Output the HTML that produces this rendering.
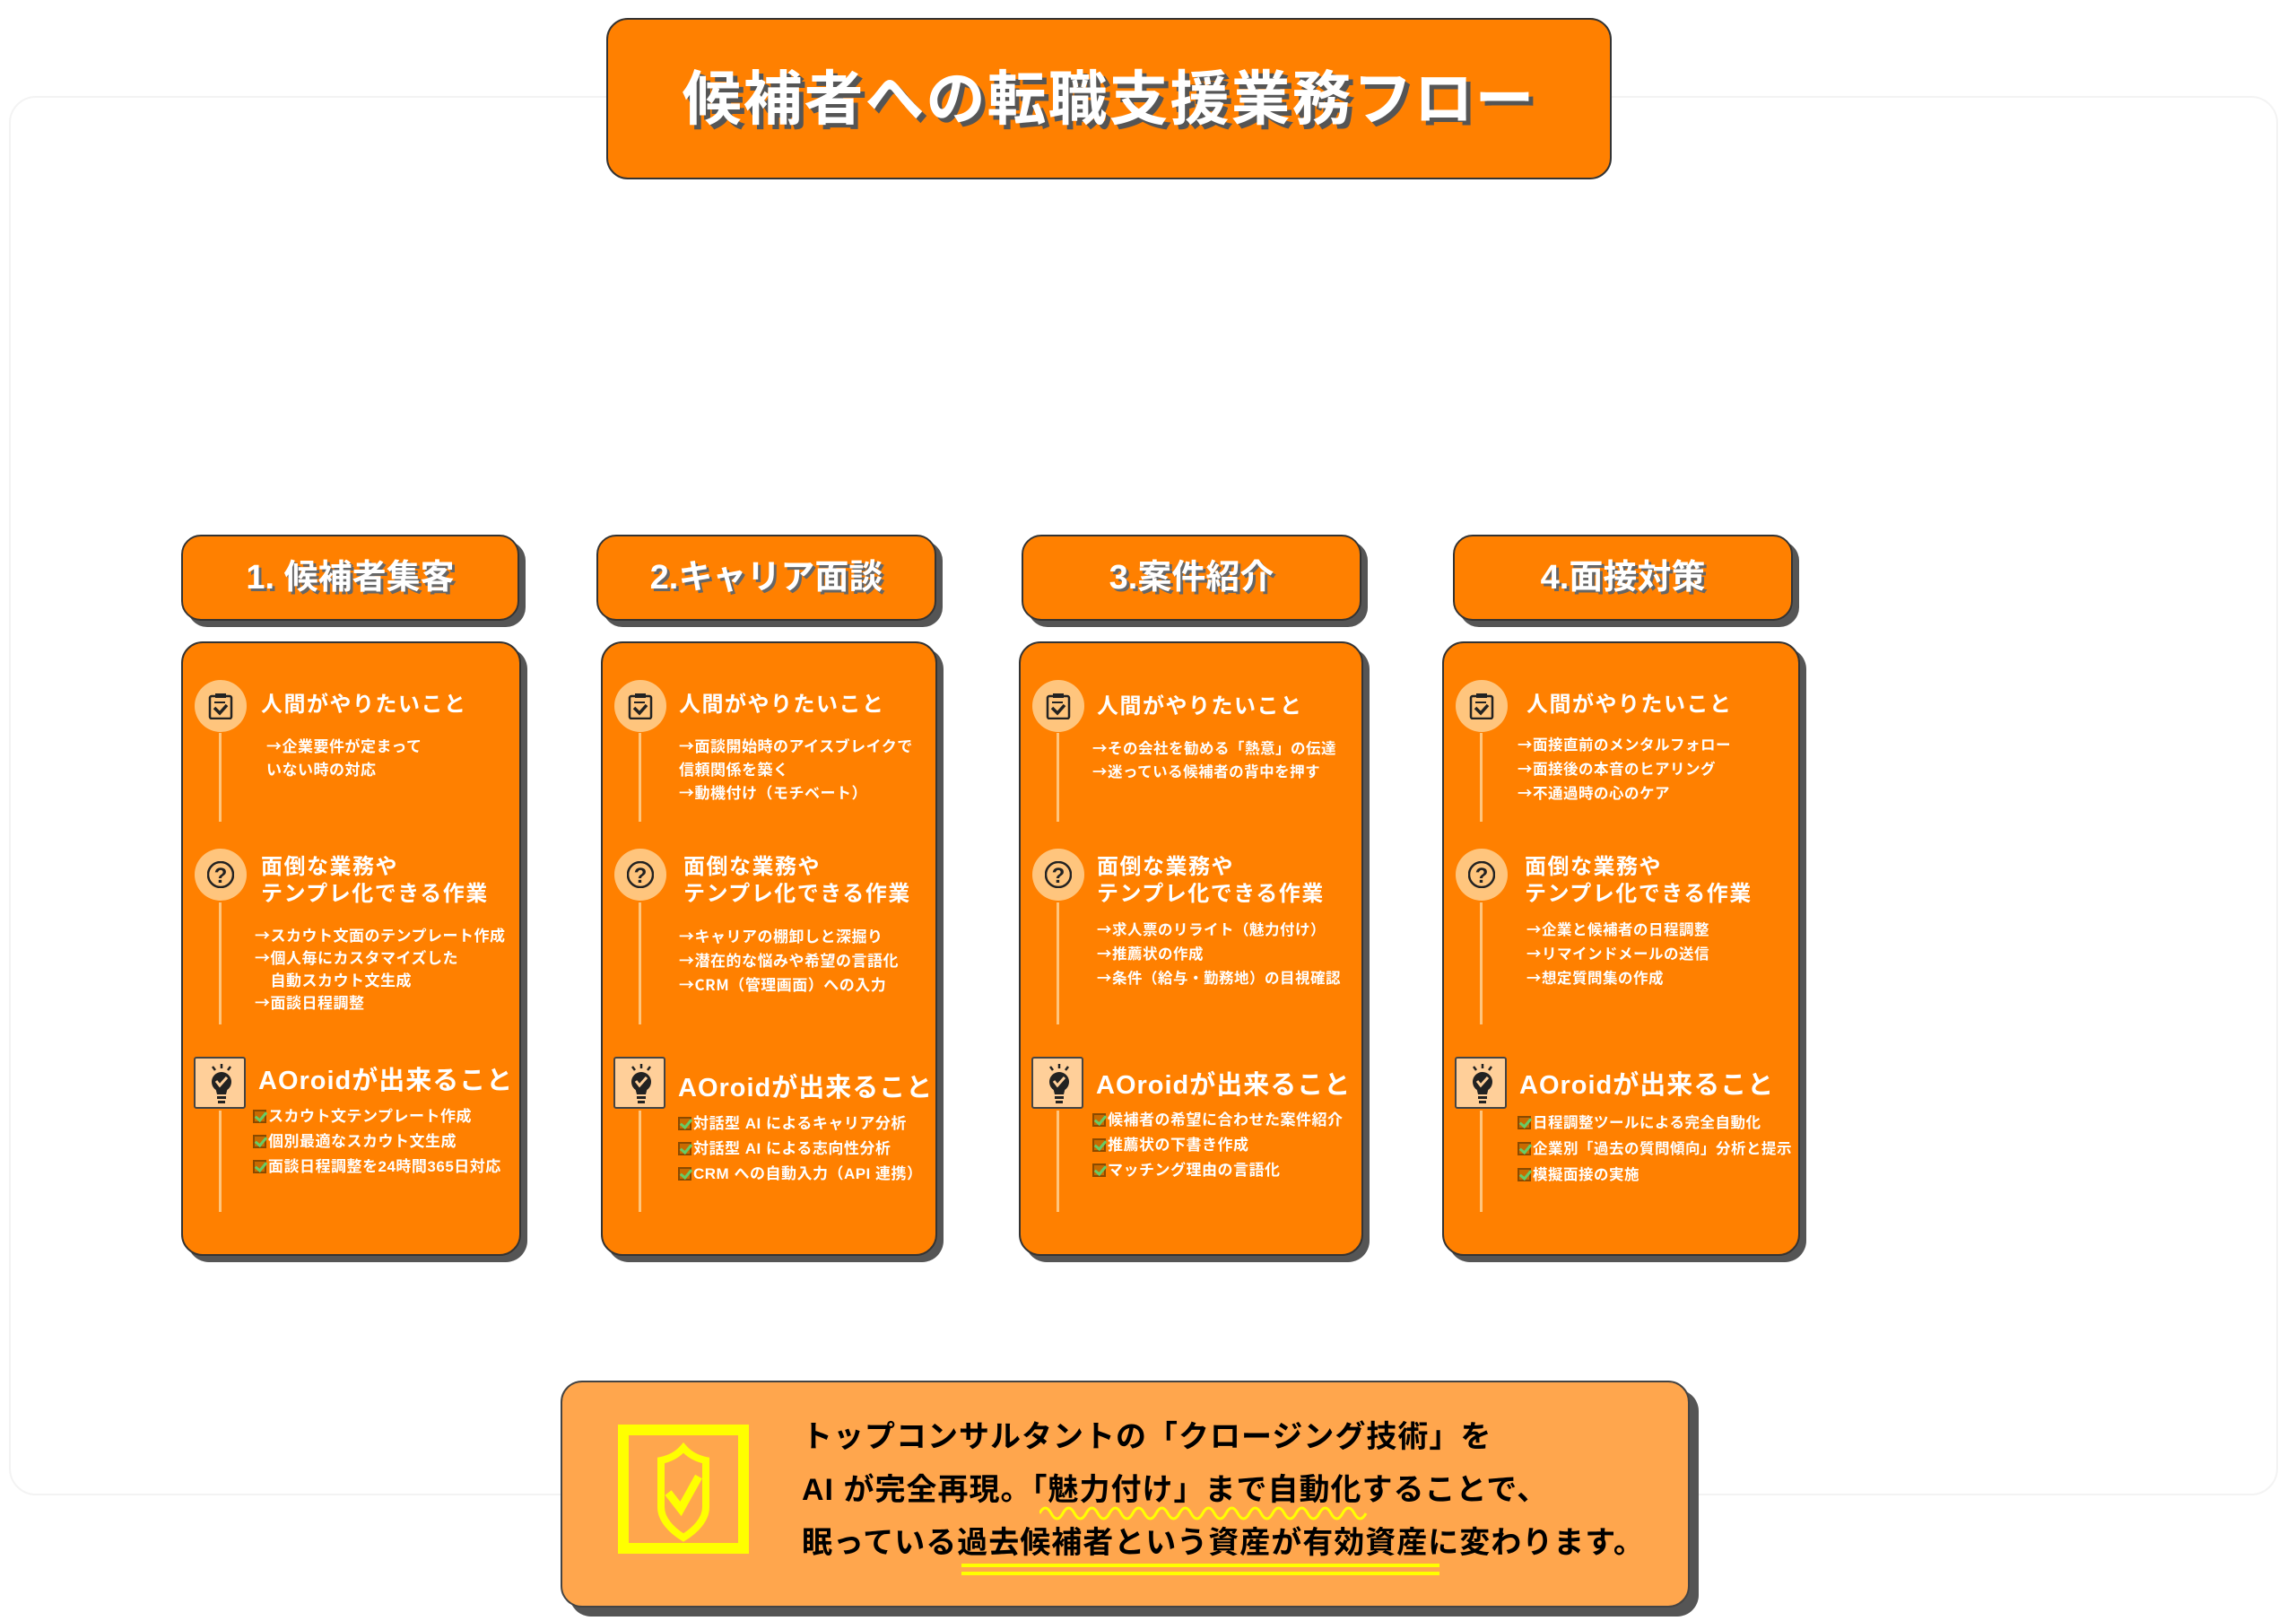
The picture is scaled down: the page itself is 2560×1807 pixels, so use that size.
<!DOCTYPE html>
<html><head><meta charset="utf-8"><style>
*{margin:0;padding:0;box-sizing:border-box}
body{width:2560px;height:1807px;background:#fff;position:relative;overflow:hidden;font-family:"Liberation Sans","Noto Sans CJK JP",sans-serif;font-weight:bold}
.abs{position:absolute}
.panel{position:absolute;left:10px;top:107px;width:2530px;height:1560px;border:2px solid #f3f3f3;border-radius:30px}
.title{left:676px;top:20px;width:1121px;height:180px;background:#ff8000;border:2px solid #333;border-radius:24px;color:#fff;font-size:66px;text-align:center;line-height:176px;text-shadow:5px 5px 0 #555;letter-spacing:2px}
.sub{left:490px;top:310px;width:1600px;color:#fff;font-size:70px;line-height:80px}
.hdr{height:96px;background:#ff8000;border:2px solid #333;border-radius:22px;box-shadow:7px 7px 0 #555;color:#fff;font-size:38px;text-align:center;line-height:92px;text-shadow:3px 3px 0 #666;top:596px}
.card{top:715px;height:685px;background:#ff8000;border:2px solid #333;border-radius:24px;box-shadow:7px 7px 0 #555;color:#fff}
.circ{position:absolute;left:13px;width:58px;height:58px;border-radius:50%;background:#ffc57d}
.circ svg{position:absolute;left:14px;top:14px}
.vl{position:absolute;left:40px;width:3px;background:#ffc57d}
.h{position:absolute;left:87px;font-size:24px;line-height:30px;letter-spacing:1.5px}
.b{position:absolute;left:92px;font-size:17px;line-height:26px;letter-spacing:0.5px;white-space:nowrap;font-family:"Noto Sans CJK JP","Liberation Sans",sans-serif}
.sq{position:absolute;left:12px;top:461px;width:58px;height:58px;background:#ffcf99;border:2px solid #444;border-radius:3px}
.sq svg{position:absolute;left:11px;top:6px}
.ah{position:absolute;left:84px;top:468px;font-size:29px;line-height:40px;white-space:nowrap;letter-spacing:1px}
.ck{position:absolute;left:78px;top:514px;font-size:17px;line-height:28px;white-space:nowrap;letter-spacing:0.5px}
.ck i{display:inline-block;width:15px;height:15px;border:2px solid #8a4a00;background:#c96a00;position:relative;vertical-align:-2px;margin-right:2px}
.ck i:after{content:"";position:absolute;left:3px;top:-2px;width:5px;height:10px;border:solid #6c6;border-width:0 3px 3px 0;transform:rotate(40deg)}
.bottom{left:625px;top:1539px;width:1259px;height:253px;background:#ffa64d;border:2px solid #444;border-radius:24px;box-shadow:10px 10px 0 #555}
.bt{position:absolute;left:267px;font-size:34px;color:#000;white-space:nowrap;letter-spacing:1px;line-height:40px}
</style></head><body>
<div class="panel"></div>
<div class="abs title">候補者への転職支援業務フロー</div>
<div class="abs sub">実行出来ていない「過去候補者」の掘り起こし、<br>候補者の動機づけをAIで完全自動化!</div>

<div class="abs hdr" style="left:202px;width:377px">1. 候補者集客</div>
<div class="abs hdr" style="left:665px;width:379px">2.キャリア面談</div>
<div class="abs hdr" style="left:1139px;width:379px">3.案件紹介</div>
<div class="abs hdr" style="left:1620px;width:379px">4.面接対策</div>

<svg width="0" height="0" style="position:absolute"><defs>
<g id="clip"><rect x="3" y="4" width="24" height="25" fill="none" stroke="#222" stroke-width="2.5" rx="2"/><rect x="9" y="1" width="12" height="5" fill="#222"/><line x1="8" y1="11" x2="20" y2="11" stroke="#222" stroke-width="2"/><polyline points="8,17 14,23 22,14" fill="none" stroke="#222" stroke-width="3.5"/></g>
<g id="q"><circle cx="15" cy="15" r="14" fill="none" stroke="#222" stroke-width="2.5"/><text x="15" y="24" font-size="24" font-weight="bold" text-anchor="middle" fill="#222" font-family="Liberation Sans">?</text></g>
<g id="bulb"><line x1="18" y1="0" x2="18" y2="5" stroke="#222" stroke-width="2.5"/><line x1="8" y1="3" x2="11" y2="7" stroke="#222" stroke-width="2.5"/><line x1="28" y1="3" x2="25" y2="7" stroke="#222" stroke-width="2.5"/><circle cx="18" cy="20" r="11" fill="#222"/><path d="M11 26 L25 26 L23 34 L13 34Z" fill="#222"/><rect x="13" y="36" width="10" height="3" fill="#222"/><rect x="14" y="41" width="8" height="3" fill="#222"/><polyline points="12,19 16,24 24,15" fill="none" stroke="#ffcf99" stroke-width="3"/></g>
</defs></svg>

<div class="abs card" style="left:202px;width:379px">
<div class="circ" style="top:41px"><svg width="30" height="30"><use href="#clip"/></svg></div>
<div class="vl" style="top:100px;height:99px"></div>
<div class="h" style="top:54px">人間がやりたいこと</div>
<div class="b" style="top:101px;left:93px">→企業要件が定まって<br>いない時の対応</div>
<div class="circ" style="top:229px"><svg width="30" height="30"><use href="#q"/></svg></div>
<div class="vl" style="top:289px;height:136px"></div>
<div class="h" style="top:235px">面倒な業務や<br>テンプレ化できる作業</div>
<div class="b" style="top:312px;left:80px;line-height:25px">→スカウト文面のテンプレート作成<br>→個人毎にカスタマイズした<br>　自動スカウト文生成<br>→面談日程調整</div>
<div class="sq"><svg width="36" height="46"><use href="#bulb"/></svg></div>
<div class="vl" style="top:521px;height:113px"></div>
<div class="ah">AOroidが出来ること</div>
<div class="ck"><i></i>スカウト文テンプレート作成<br><i></i>個別最適なスカウト文生成<br><i></i>面談日程調整を24時間365日対応</div>
</div>

<div class="abs card" style="left:670px;width:375px">
<div class="circ" style="top:41px"><svg width="30" height="30"><use href="#clip"/></svg></div>
<div class="vl" style="top:100px;height:99px"></div>
<div class="h" style="top:54px;left:85px">人間がやりたいこと</div>
<div class="b" style="top:101px;left:85px">→面談開始時のアイスブレイクで<br>信頼関係を築く<br>→動機付け（モチベート）</div>
<div class="circ" style="top:229px"><svg width="30" height="30"><use href="#q"/></svg></div>
<div class="vl" style="top:289px;height:136px"></div>
<div class="h" style="top:235px;left:90px">面倒な業務や<br>テンプレ化できる作業</div>
<div class="b" style="top:312px;left:85px;line-height:27px">→キャリアの棚卸しと深掘り<br>→潜在的な悩みや希望の言語化<br>→CRM（管理画面）への入力</div>
<div class="sq"><svg width="36" height="46"><use href="#bulb"/></svg></div>
<div class="vl" style="top:521px;height:113px"></div>
<div class="ah" style="top:476px">AOroidが出来ること</div>
<div class="ck" style="top:522px;left:84px"><i></i>対話型 AI によるキャリア分析<br><i></i>対話型 AI による志向性分析<br><i></i>CRM への自動入力（API 連携）</div>
</div>

<div class="abs card" style="left:1136px;width:384px">
<div class="circ" style="top:41px"><svg width="30" height="30"><use href="#clip"/></svg></div>
<div class="vl" style="top:100px;height:99px"></div>
<div class="h" style="top:56px;left:85px">人間がやりたいこと</div>
<div class="b" style="top:103px;left:80px;font-size:16.5px">→その会社を勧める「熱意」の伝達<br>→迷っている候補者の背中を押す</div>
<div class="circ" style="top:229px"><svg width="30" height="30"><use href="#q"/></svg></div>
<div class="vl" style="top:289px;height:136px"></div>
<div class="h" style="top:235px;left:85px">面倒な業務や<br>テンプレ化できる作業</div>
<div class="b" style="top:305px;left:85px;font-size:16.5px;line-height:27px">→求人票のリライト（魅力付け）<br>→推薦状の作成<br>→条件（給与・勤務地）の目視確認</div>
<div class="sq"><svg width="36" height="46"><use href="#bulb"/></svg></div>
<div class="vl" style="top:521px;height:113px"></div>
<div class="ah" style="top:473px">AOroidが出来ること</div>
<div class="ck" style="top:518px;left:80px"><i></i>候補者の希望に合わせた案件紹介<br><i></i>推薦状の下書き作成<br><i></i>マッチング理由の言語化</div>
</div>

<div class="abs card" style="left:1608px;width:399px">
<div class="circ" style="top:41px"><svg width="30" height="30"><use href="#clip"/></svg></div>
<div class="vl" style="top:100px;height:99px"></div>
<div class="h" style="top:54px;left:92px">人間がやりたいこと</div>
<div class="b" style="top:99px;left:82px;font-size:16.5px;line-height:27px">→面接直前のメンタルフォロー<br>→面接後の本音のヒアリング<br>→不通過時の心のケア</div>
<div class="circ" style="top:229px"><svg width="30" height="30"><use href="#q"/></svg></div>
<div class="vl" style="top:289px;height:136px"></div>
<div class="h" style="top:235px;left:90px">面倒な業務や<br>テンプレ化できる作業</div>
<div class="b" style="top:305px;left:92px;font-size:16.5px;line-height:27px">→企業と候補者の日程調整<br>→リマインドメールの送信<br>→想定質問集の作成</div>
<div class="sq"><svg width="36" height="46"><use href="#bulb"/></svg></div>
<div class="vl" style="top:521px;height:113px"></div>
<div class="ah" style="top:473px">AOroidが出来ること</div>
<div class="ck" style="top:521px;left:82px;font-size:16.5px;line-height:29px"><i></i>日程調整ツールによる完全自動化<br><i></i>企業別「過去の質問傾向」分析と提示<br><i></i>模擬面接の実施</div>
</div>

<div class="abs bottom">
<svg class="abs" style="left:62px;top:47px" width="146" height="144">
<rect x="6" y="6" width="134" height="132" fill="none" stroke="#ffff00" stroke-width="12"/>
<path d="M73 26 C66 34 58 38 48 40 L48 92 C48 106 60 118 73 126 C86 118 98 106 98 92 L98 40 C88 38 80 34 73 26Z" fill="none" stroke="#ffff00" stroke-width="8"/>
<polyline points="56,76 70,94 90,58" fill="none" stroke="#ffff00" stroke-width="9"/>
</svg>
<div class="bt" style="top:41px">トップコンサルタントの「クロージング技術」を</div>
<div class="bt" style="top:100px">AI が完全再現。「魅力付け」まで自動化することで、</div>
<div class="bt" style="top:159px">眠っている過去候補者という資産が有効資産に変わります。</div>
<svg class="abs" style="left:532px;top:136px" width="368" height="20"><path d="M0 10 q6.5 -12 13 0 t13 0 t13 0 t13 0 t13 0 t13 0 t13 0 t13 0 t13 0 t13 0 t13 0 t13 0 t13 0 t13 0 t13 0 t13 0 t13 0 t13 0 t13 0 t13 0 t13 0 t13 0 t13 0 t13 0 t13 0 t13 0 t13 0 t13 0" fill="none" stroke="#ffff00" stroke-width="3"/></svg>
<div class="abs" style="left:445px;top:202px;width:533px;height:4px;background:#ffff00"></div>
<div class="abs" style="left:445px;top:211px;width:533px;height:4px;background:#ffff00"></div>
</div>
</body></html>
